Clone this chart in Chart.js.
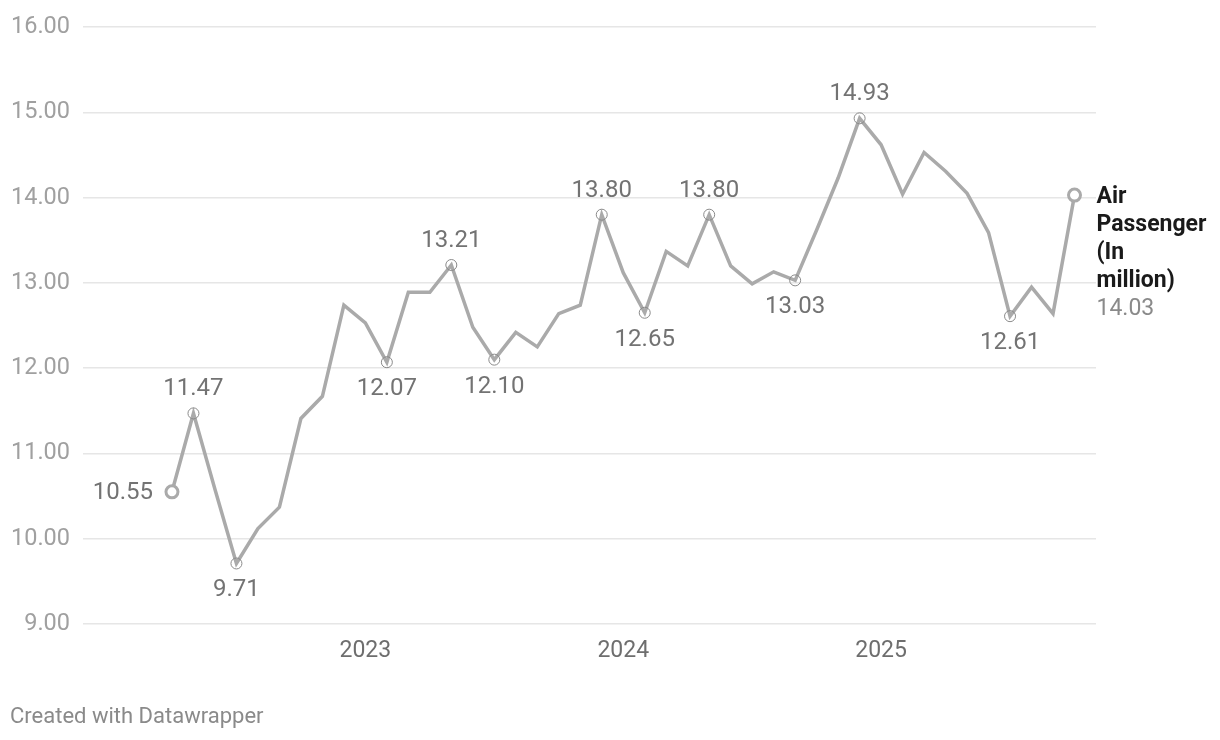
<!DOCTYPE html>
<html>
<head>
<meta charset="utf-8">
<script src="https://cdn.jsdelivr.net/npm/chart.js@4"></script>
<style>
    html, body { margin: 0; padding: 0; background: #fff; }
    #wrap { width: 1220px; height: 740px; position: relative; }
</style>
</head>
<body>
<div id="wrap"><canvas id="Graph" width="1220" height="740"></canvas></div>
<script>
const months = [
    'Apr 2022', 'May 2022', 'Jun 2022', 'Jul 2022', 'Aug 2022', 'Sep 2022', 'Oct 2022', 'Nov 2022', 'Dec 2022',
    'Jan 2023', 'Feb 2023', 'Mar 2023', 'Apr 2023', 'May 2023', 'Jun 2023', 'Jul 2023', 'Aug 2023', 'Sep 2023', 'Oct 2023', 'Nov 2023', 'Dec 2023',
    'Jan 2024', 'Feb 2024', 'Mar 2024', 'Apr 2024', 'May 2024', 'Jun 2024', 'Jul 2024', 'Aug 2024', 'Sep 2024', 'Oct 2024', 'Nov 2024', 'Dec 2024',
    'Jan 2025', 'Feb 2025', 'Mar 2025', 'Apr 2025', 'May 2025', 'Jun 2025', 'Jul 2025', 'Aug 2025', 'Sep 2025', 'Oct 2025'
];
const passengers = [
    10.55, 11.47, 10.58, 9.71, 10.12, 10.37, 11.41, 11.67, 12.74,
    12.53, 12.07, 12.89, 12.89, 13.21, 12.48, 12.10, 12.42, 12.25, 12.64, 12.74, 13.80,
    13.12, 12.65, 13.37, 13.20, 13.80, 13.20, 12.99, 13.13, 13.03, 13.62, 14.23, 14.93,
    14.62, 14.04, 14.53, 14.31, 14.05, 13.59, 12.61, 12.95, 12.64, 14.03
];
const seriesName = ['Air', 'Passenger', '(In', 'million)'];
const yearTicks = ['Jan 2023', 'Jan 2024', 'Jan 2025'];
const yearLabels = ['2023', '2024', '2025'];
const yTicks = [9, 10, 11, 12, 13, 14, 15, 16];

// which points get a value label, and where it goes
const labelsAbove = ['May 2022', 'May 2023', 'Dec 2023', 'May 2024', 'Dec 2024'];
const labelsBelow = ['Jul 2022', 'Feb 2023', 'Jul 2023', 'Feb 2024', 'Sep 2024', 'Jul 2025'];

const FONT = 'Roboto, "Noto Sans", sans-serif';
const lastIdx = passengers.length - 1;

const pointData = passengers.map((v, i) => ({ x: i, y: v }));

const radius = months.map((m, i) => {
    if (i === 0 || i === lastIdx) return 6;
    if (labelsAbove.includes(m) || labelsBelow.includes(m)) return 5.5;
    return 0;
});
const borderW = months.map((m, i) => (i === 0 || i === lastIdx) ? 3 : 1);
const borderC = months.map((m, i) => (i === 0 || i === lastIdx) ? '#aaaaaa' : '#8a8a8a');
const fillC = months.map((m, i) => (i === 0 || i === lastIdx) ? '#ffffff' : 'rgba(0,0,0,0)');

const labelPlugin = {
    id: 'valueLabels',
    afterDatasetsDraw(chart) {
        const ctx = chart.ctx;
        const xs = chart.scales.x;
        const ys = chart.scales.y;
        ctx.save();
        ctx.font = '24px ' + FONT;
        ctx.fillStyle = '#737373';
        ctx.textBaseline = 'middle';
        ctx.textAlign = 'center';
        months.forEach((m, i) => {
            const px = xs.getPixelForValue(i);
            const py = ys.getPixelForValue(passengers[i]);
            const txt = passengers[i].toFixed(2);
            if (labelsAbove.includes(m)) ctx.fillText(txt, px, py - 24);
            if (labelsBelow.includes(m)) ctx.fillText(txt, px, py + 27);
        });

        // first value on the left
        const x0 = xs.getPixelForValue(0);
        const y0 = ys.getPixelForValue(passengers[0]);
        ctx.textAlign = 'right';
        ctx.fillText(passengers[0].toFixed(2), x0 - 19, y0 + 1);

        // series name + last value on the right
        const xl = xs.getPixelForValue(lastIdx);
        const yl = ys.getPixelForValue(passengers[lastIdx]);
        ctx.textAlign = 'left';
        ctx.font = 'bold 23px ' + FONT;
        ctx.fillStyle = '#1a1a1a';
        seriesName.forEach((line, k) => {
            ctx.fillText(line, xl + 22, yl + 2 + k * 28);
        });
        ctx.font = '23px ' + FONT;
        ctx.fillStyle = '#8a8a8a';
        ctx.fillText(passengers[lastIdx].toFixed(2), xl + 22, yl + 2 + seriesName.length * 28);

        // footer
        ctx.font = '22px ' + FONT;
        ctx.fillStyle = '#8a8a8a';
        ctx.fillText('Created with Datawrapper', 10, 717);
        ctx.restore();
    }
};

const ctx = document.getElementById('Graph').getContext('2d');
const myChart = new Chart(ctx, {
    type: 'line',
    data: {
        datasets: [{
            label: 'Air Passenger (In million)',
            data: pointData,
            borderColor: '#aaaaaa',
            borderWidth: 3.5,
            tension: 0,
            pointRadius: radius,
            pointBorderWidth: borderW,
            pointBorderColor: borderC,
            pointBackgroundColor: fillC,
            pointHoverRadius: radius
        }]
    },
    options: {
        responsive: false,
        animation: false,
        events: [],
        layout: { padding: { top: 23, right: 124, bottom: 0, left: 0 } },
        plugins: {
            legend: { display: false },
            tooltip: { enabled: false }
        },
        scales: {
            x: {
                type: 'linear',
                min: -4.14,
                max: 43,
                grid: { display: false, drawTicks: false },
                border: { display: false },
                afterBuildTicks: (scale) => {
                    scale.ticks = yearTicks.map(m => ({ value: months.indexOf(m) }));
                },
                afterFit: (scale) => { scale.height = 116; },
                ticks: {
                    autoSkip: false,
                    maxRotation: 0,
                    padding: 13,
                    color: '#6e6e6e',
                    font: { family: FONT, size: 23 },
                    callback: (value) => yearLabels[yearTicks.indexOf(months[value])]
                }
            },
            y: {
                min: 9,
                max: 16,
                grid: { color: '#e6e6e6', lineWidth: 1.5, drawTicks: false },
                border: { display: false },
                afterBuildTicks: (scale) => {
                    scale.ticks = yTicks.map(v => ({ value: v }));
                },
                afterFit: (scale) => { scale.width = 83; },
                ticks: {
                    padding: 13,
                    color: '#a0a0a0',
                    font: { family: FONT, size: 23.5 },
                    callback: (value) => value.toFixed(2)
                }
            }
        }
    },
    plugins: [labelPlugin]
});
</script>
</body>
</html>
